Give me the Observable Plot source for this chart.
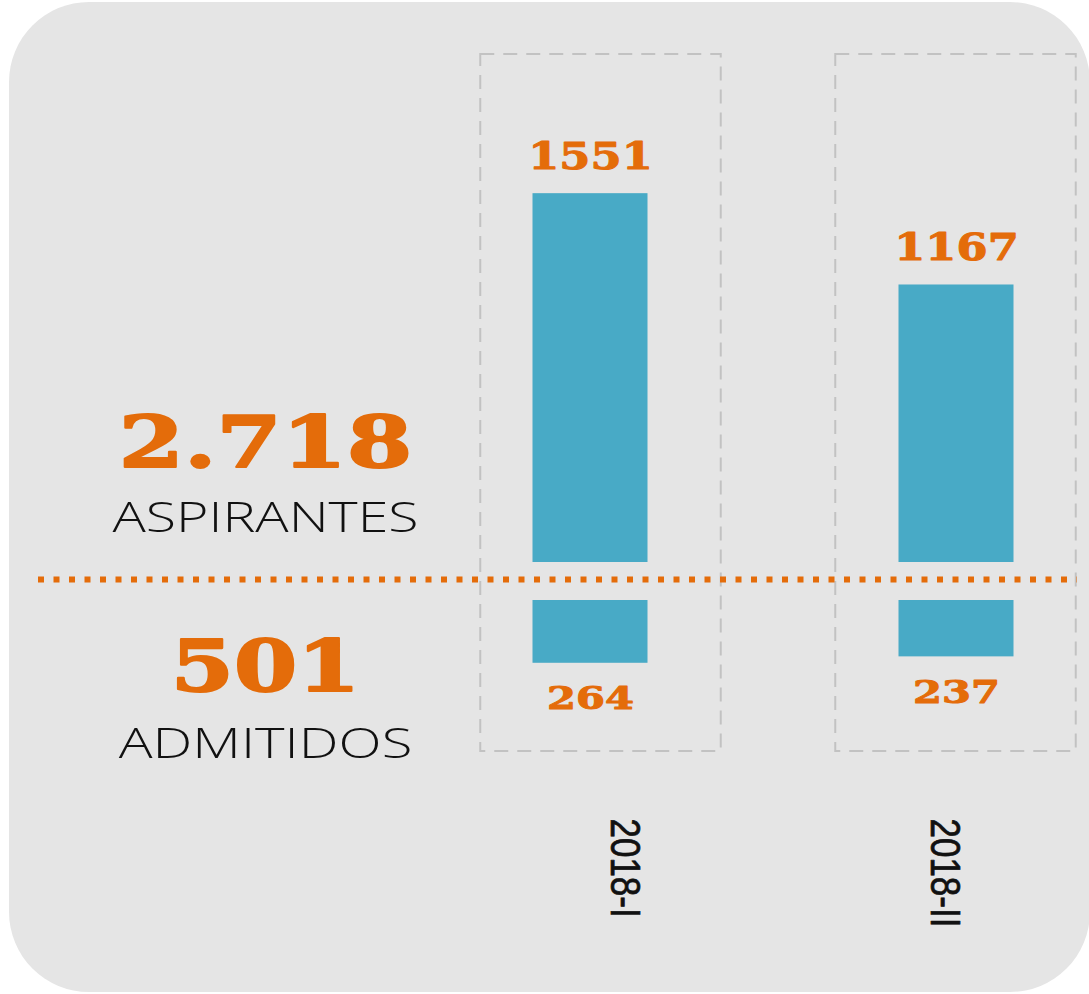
<!DOCTYPE html>
<html>
<head>
<meta charset="utf-8">
<script src="https://cdn.jsdelivr.net/npm/d3@7"></script>
<script src="https://cdn.jsdelivr.net/npm/@observablehq/plot@0.6"></script>
<style>
  html, body { margin: 0; padding: 0; background: #ffffff; overflow: hidden; }
  #card { position: absolute; left: 9px; top: 2px; width: 1081px; height: 990px; background: #e5e5e5; border-radius: 80px; }
  .layer { position: absolute; left: 0; top: 0; }
</style>
</head>
<body>
<div id="card"></div>
<div id="boxes" class="layer"></div>
<div id="chart" class="layer"></div>
<div id="labels" class="layer"></div>
<script>
// ---- data ----
const periods = ["2018-I", "2018-II"];
const aspirantes = [1551, 1167];
const admitidos = [264, 237];
const summaryLabels = ["ASPIRANTES", "ADMITIDOS"];

// ---- styling / layout ----
const ORANGE = "#e46c0a";
const TEAL = "#48aac6";
const W = 1089, H = 994;
const BASE_PX = 562;         // pixel of zero for aspirantes
const K = 0.2378;            // pixels per unit
const toV = px => (BASE_PX - px) / K;
const ADM_TOP = toV(600);

const rows = periods.map((p, i) => ({period: p, aspirantes: aspirantes[i], admitidos: admitidos[i]}));
const fmt = d3.formatLocale({decimal: ",", thousands: ".", grouping: [3], currency: ["$", ""]}).format(",");
const totals = [fmt(d3.sum(aspirantes)), fmt(d3.sum(admitidos))];

const numStyle = (size, stretch, sw) => ({fill: ORANGE, stroke: ORANGE, strokeWidth: sw, fontFamily: "DejaVu Serif",
  fontWeight: "bold", fontSize: size, ariaDescription: `stretch:${stretch}`});
const wordStyle = (stretch) => ({fill: "#111", fontFamily: "Open Sans", fontWeight: 300, fontSize: 43,
  ariaDescription: `stretch:${stretch}`});

const baseOpts = {width: W, height: H, margin: 0, style: {background: "transparent", overflow: "visible"}};
const yScale = {domain: [toV(H), toV(0)], range: [H, 0], axis: null};

// dashed boxes per period (own band spacing)
const svgBoxes = Plot.plot({
  ...baseOpts,
  x: {type: "band", domain: periods, range: [422.75, 1133.75], padding: 0, axis: null},
  y: yScale,
  marks: [
    Plot.barY(rows, {x: "period", y1: toV(751), y2: toV(54), fill: "none", stroke: "#c2c2c2",
      strokeWidth: 2, strokeDasharray: "14,9", insetLeft: 57.25, insetRight: 57.25})
  ]
});

const svg = Plot.plot({
  ...baseOpts,
  x: {type: "band", domain: periods, range: [406.5, 1138.5], padding: 0, axis: null},
  y: yScale,
  marks: [
    // dotted separator
    Plot.ruleY([toV(579)], {stroke: ORANGE, strokeWidth: 6, strokeDasharray: "6,9.5", insetLeft: 38, insetRight: 12}),
    // aspirantes bars
    Plot.barY(rows, {x: "period", y1: 0, y2: "aspirantes", fill: TEAL, insetLeft: 125.5, insetRight: 125.5}),
    // admitidos bars (hanging down)
    Plot.barY(rows, {x: "period", y1: ADM_TOP, y2: d => ADM_TOP - d.admitidos, fill: TEAL, insetLeft: 125.5, insetRight: 125.5}),
    // value labels
    Plot.text(rows, {x: "period", y: "aspirantes", text: d => String(d.aspirantes), lineAnchor: "bottom", dy: -25,
      ...numStyle(37, 1.21, 1)}),
    Plot.text(rows, {x: "period", y: d => ADM_TOP - d.admitidos, text: d => String(d.admitidos), lineAnchor: "bottom", dy: 46,
      ...numStyle(32, 1.3, 1)}),
    // totals
    Plot.text([totals[0]], {frameAnchor: "top-left", text: d => d, dx: 265, dy: 466, lineAnchor: "bottom", textAnchor: "middle",
      ...numStyle(71, 1.32, 2)}),
    Plot.text([totals[1]], {frameAnchor: "top-left", text: d => d, dx: 265, dy: 690, lineAnchor: "bottom", textAnchor: "middle",
      ...numStyle(71, 1.28, 2)}),
    Plot.text([summaryLabels[0]], {frameAnchor: "top-left", text: d => d, dx: 265, dy: 531, lineAnchor: "bottom", textAnchor: "middle",
      ...wordStyle(1.29)}),
    Plot.text([summaryLabels[1]], {frameAnchor: "top-left", text: d => d, dx: 265, dy: 757, lineAnchor: "bottom", textAnchor: "middle",
      ...wordStyle(1.31)})
  ]
});

// period labels: own band scale (label spacing differs from bar spacing in the reference)
const svgLabels = Plot.plot({
  ...baseOpts,
  x: {type: "band", domain: periods, range: [463.75, 1104.75], padding: 0, axis: null},
  marks: [
    Plot.text(rows, {x: "period", text: "period", frameAnchor: "top", dy: 818, rotate: 90,
      textAnchor: "start", lineAnchor: "middle", fill: "#111", stroke: "#111", strokeWidth: 0.6,
      fontFamily: "Liberation Sans", fontSize: 35, ariaDescription: "stretch:1.2"})
  ]
});

// horizontal stretch of text glyphs (the reference is rendered wide)
function stretchText(root) {
  d3.select(root).selectAll("g[aria-description]").each(function() {
    const m = /stretch:([\d.]+)/.exec(this.getAttribute("aria-description") || "");
    if (!m) return;
    const s = +m[1];
    d3.select(this).selectAll("text").attr("transform", function() {
      const t = this.getAttribute("transform") || "";
      if (t.includes("rotate")) return t.replace("rotate", `scale(${s},1) rotate`);
      return `${t} scale(${s},1)`;
    });
  });
}
stretchText(svg);
stretchText(svgLabels);

document.getElementById("boxes").appendChild(svgBoxes);
document.getElementById("chart").appendChild(svg);
document.getElementById("labels").appendChild(svgLabels);
</script>
</body>
</html>
